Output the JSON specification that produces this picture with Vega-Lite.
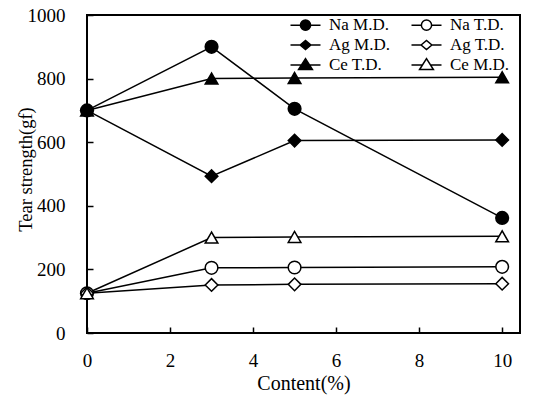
{
  "$schema": "https://vega.github.io/schema/vega-lite/v6.json",
  "width": 433,
  "height": 318,
  "autosize": {"type": "none"},
  "padding": {"left": 87, "top": 15, "right": 13, "bottom": 64},
  "background": "white",
  "config": {
    "view": {"stroke": "black", "strokeWidth": 2},
    "font": "Liberation Serif",
    "axis": {
      "domain": false,
      "grid": false,
      "labelFlush": false,
      "tickColor": "black",
      "tickWidth": 1.5,
      "tickSize": -6,
      "labelFont": "Liberation Serif",
      "labelFontSize": 19,
      "labelColor": "black",
      "titleFont": "Liberation Serif",
      "titleFontSize": 18,
      "titleFontWeight": "normal",
      "titleColor": "black"
    }
  },
  "data": {
    "values": [
      {"x": 0, "y": 700, "series": "Na M.D."},
      {"x": 3, "y": 900, "series": "Na M.D."},
      {"x": 5, "y": 705, "series": "Na M.D."},
      {"x": 10, "y": 362, "series": "Na M.D."},
      {"x": 0, "y": 125, "series": "Na T.D."},
      {"x": 3, "y": 205, "series": "Na T.D."},
      {"x": 5, "y": 206, "series": "Na T.D."},
      {"x": 10, "y": 208, "series": "Na T.D."},
      {"x": 0, "y": 700, "series": "Ag M.D."},
      {"x": 3, "y": 493, "series": "Ag M.D."},
      {"x": 5, "y": 605, "series": "Ag M.D."},
      {"x": 10, "y": 607, "series": "Ag M.D."},
      {"x": 0, "y": 125, "series": "Ag T.D."},
      {"x": 3, "y": 151, "series": "Ag T.D."},
      {"x": 5, "y": 153, "series": "Ag T.D."},
      {"x": 10, "y": 155, "series": "Ag T.D."},
      {"x": 0, "y": 700, "series": "Ce T.D."},
      {"x": 3, "y": 800, "series": "Ce T.D."},
      {"x": 5, "y": 802, "series": "Ce T.D."},
      {"x": 10, "y": 804, "series": "Ce T.D."},
      {"x": 0, "y": 125, "series": "Ce M.D."},
      {"x": 3, "y": 300, "series": "Ce M.D."},
      {"x": 5, "y": 302, "series": "Ce M.D."},
      {"x": 10, "y": 304, "series": "Ce M.D."}
    ]
  },
  "encoding": {
    "x": {
      "field": "x",
      "type": "quantitative",
      "scale": {"domain": [0, 10.43], "nice": false, "zero": false},
      "axis": {"values": [0, 2, 4, 6, 8, 10], "labelPadding": 24, "title": "Content(%)", "titleFontSize": 20, "titleY": 50, "titleBaseline": "middle"}
    },
    "y": {
      "field": "y",
      "type": "quantitative",
      "scale": {"domain": [0, 1000], "nice": false},
      "axis": {"values": [0, 200, 400, 600, 800, 1000], "format": "d", "labelPadding": 28, "title": "Tear strength(gf)", "titleFontSize": 18.5, "titleX": -62, "titleY": 154, "titleBaseline": "middle"}
    }
  },
  "layer": [
    {
      "mark": {"type": "line", "color": "black", "strokeWidth": 1.5},
      "encoding": {"detail": {"field": "series"}}
    },
    {
      "mark": {"type": "point", "filled": true, "stroke": "black", "strokeWidth": 1.5, "opacity": 1, "size": 160},
      "encoding": {
        "shape": {
          "field": "series",
          "type": "nominal",
          "scale": {
            "domain": ["Na M.D.", "Ag M.D.", "Ce T.D.", "Na T.D.", "Ag T.D.", "Ce M.D."],
            "range": ["circle", "diamond", "triangle-up", "circle", "diamond", "triangle-up"]
          },
          "legend": null
        },
        "fill": {
          "field": "series",
          "type": "nominal",
          "scale": {
            "domain": ["Na M.D.", "Ag M.D.", "Ce T.D.", "Na T.D.", "Ag T.D.", "Ce M.D."],
            "range": ["black", "black", "black", "white", "white", "white"]
          },
          "legend": null
        }
      }
    },
    {
      "mark": {"type": "point", "filled": true, "stroke": "black", "strokeWidth": 1.5, "opacity": 0, "size": 144},
      "encoding": {
        "shape": {
          "field": "series",
          "type": "nominal",
          "scale": {
            "domain": ["Na M.D.", "Ag M.D.", "Ce T.D.", "Na T.D.", "Ag T.D.", "Ce M.D."],
            "range": [
              "M-2.5,0H-0.85M0.85,0H2.5M-0.85,0A0.85,0.85,0,1,1,0.85,0A0.85,0.85,0,1,1,-0.85,0Z",
              "M-2.5,0H-0.9M0.9,0H2.5M-0.9,0L0,-0.75L0.9,0L0,0.75Z",
              "M-2.5,0H-0.67M0.67,0H2.5M-1.15,0.75L0,-1.05L1.15,0.75Z",
              "M-2.5,0H-0.85M0.85,0H2.5M-0.85,0A0.85,0.85,0,1,1,0.85,0A0.85,0.85,0,1,1,-0.85,0Z",
              "M-2.5,0H-0.9M0.9,0H2.5M-0.9,0L0,-0.75L0.9,0L0,0.75Z",
              "M-2.5,0H-0.67M0.67,0H2.5M-1.15,0.75L0,-1.05L1.15,0.75Z"
            ]
          },
          "legend": {
            "title": null,
            "orient": "none",
            "legendX": 210,
            "legendY": 1.5,
            "columns": 2,
            "columnPadding": 18,
            "rowPadding": 2,
            "padding": 0,
            "labelOffset": 15,
            "labelFont": "Liberation Serif",
            "labelFontSize": 17,
            "labelColor": "black",
            "symbolOpacity": 1,
            "symbolSize": 144,
            "symbolStrokeColor": "black",
            "symbolStrokeWidth": 1.5,
            "encode": {"symbols": {"update": {"stroke": {"value": "black"}, "strokeWidth": {"value": 1.5}, "opacity": {"value": 1}}}}
          }
        },
        "fill": {
          "field": "series",
          "type": "nominal",
          "scale": {
            "domain": ["Na M.D.", "Ag M.D.", "Ce T.D.", "Na T.D.", "Ag T.D.", "Ce M.D."],
            "range": ["black", "black", "black", "white", "white", "white"]
          },
          "legend": {
            "title": null,
            "orient": "none",
            "legendX": 210,
            "legendY": 1.5,
            "columns": 2,
            "columnPadding": 18,
            "rowPadding": 2,
            "padding": 0,
            "labelOffset": 15,
            "labelFont": "Liberation Serif",
            "labelFontSize": 17,
            "labelColor": "black",
            "symbolOpacity": 1,
            "symbolSize": 144,
            "symbolStrokeColor": "black",
            "symbolStrokeWidth": 1.5,
            "encode": {"symbols": {"update": {"stroke": {"value": "black"}, "strokeWidth": {"value": 1.5}, "opacity": {"value": 1}}}}
          }
        }
      }
    }
  ],
  "resolve": {"scale": {"shape": "independent", "fill": "independent"}}
}
